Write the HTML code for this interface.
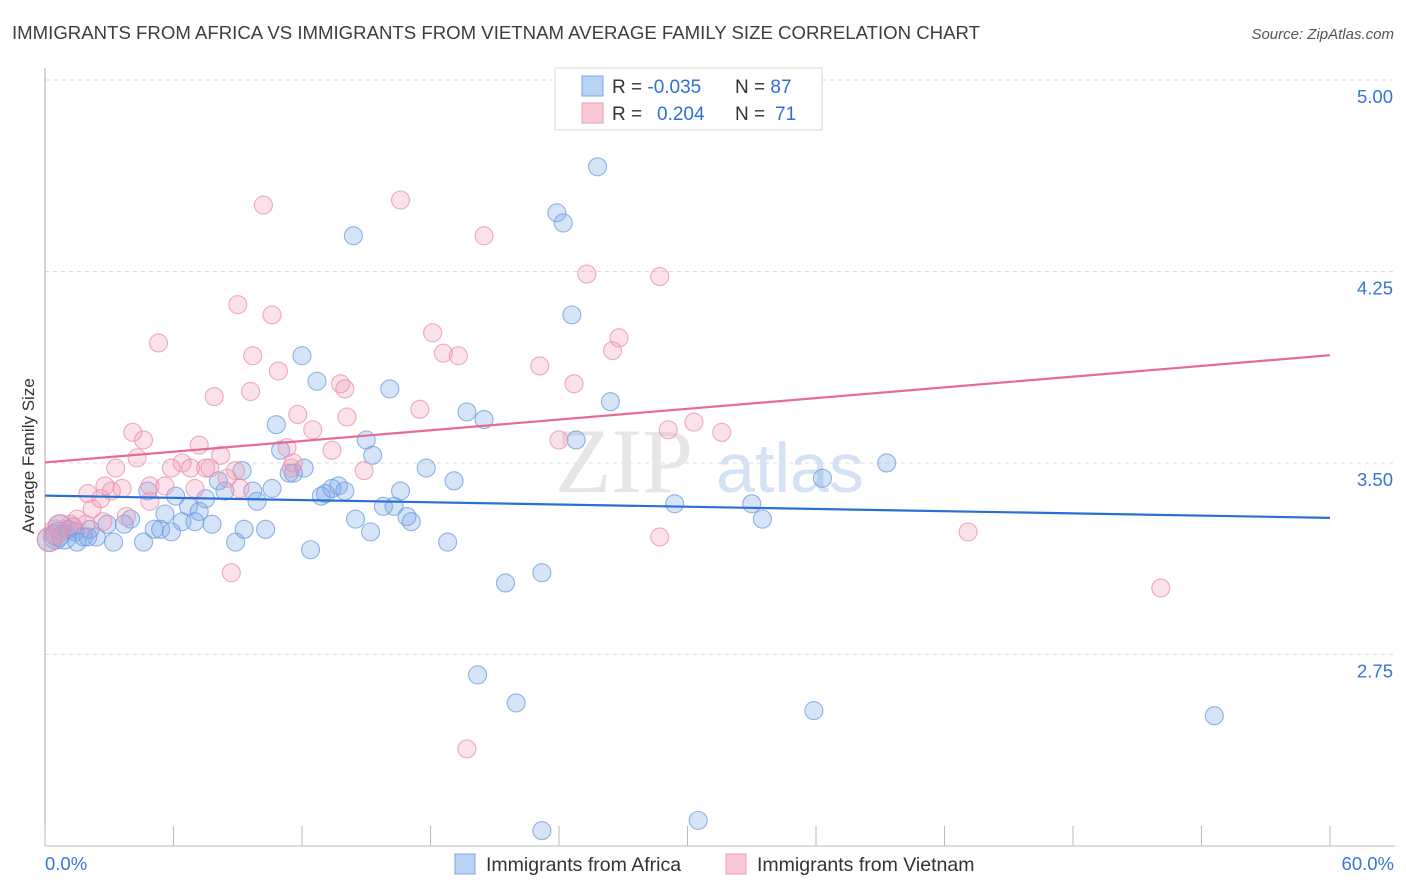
<!DOCTYPE html>
<html><head><meta charset="utf-8"><style>
html,body{margin:0;padding:0;background:#fff;width:1406px;height:892px;overflow:hidden;font-family:"Liberation Sans",sans-serif}
</style></head><body>
<svg id="chart" width="1406" height="892" viewBox="0 0 1406 892" xmlns="http://www.w3.org/2000/svg">
<text x="12" y="39" font-size="18" fill="#3d3d3d" textLength="968" lengthAdjust="spacingAndGlyphs">IMMIGRANTS FROM AFRICA VS IMMIGRANTS FROM VIETNAM AVERAGE FAMILY SIZE CORRELATION CHART</text>
<text x="1394" y="39" font-size="15" fill="#555" font-style="italic" text-anchor="end">Source: ZipAtlas.com</text>
<g id="grid"></g>
<text x="555" y="492" font-size="92" fill="#e6e6e6" font-family="Liberation Serif, serif">ZIP</text>
<text x="716" y="492" font-size="70" fill="#d4e2f3">atlas</text>
<g id="axes"></g>
<g id="pts"></g>
<g id="trends"></g>
<text transform="translate(34,456) rotate(-90)" font-size="17" fill="#333" text-anchor="middle">Average Family Size</text>
<g>
<rect x="555" y="68" width="267" height="62" fill="#fff" stroke="#d8d8d8"/>
<rect x="582" y="76" width="21" height="20" fill="#b9d3f5" stroke="#7aa5e0"/>
<rect x="582" y="103" width="21" height="20" fill="#fac8d8" stroke="#ee9ab6"/>
<text x="612" y="93" font-size="19" fill="#333">R = <tspan fill="#2f6fd6">-0.035</tspan></text>
<text x="735" y="93" font-size="19" fill="#333">N = <tspan fill="#2f6fd6">87</tspan></text>
<text x="612" y="120" font-size="19" fill="#333">R = </text><text x="657" y="120" font-size="19" fill="#2f6fd6">0.204</text>
<text x="735" y="120" font-size="19" fill="#333">N = </text><text x="775" y="120" font-size="19" fill="#2f6fd6">71</text>
</g>
<g>
<rect x="455" y="854" width="20" height="20" fill="#b9d3f5" stroke="#7aa5e0"/>
<text x="486" y="871" font-size="19.5" fill="#333">Immigrants from Africa</text></g>
<g>
<rect x="726" y="854" width="20" height="20" fill="#fac8d8" stroke="#ee9ab6"/>
<text x="757" y="871" font-size="19.5" fill="#333">Immigrants from Vietnam</text></g>
</svg>
<script>
const yTicks=[5.00,4.25,3.50,2.75];
const xTickLabels=["0.0%","60.0%"];
const blueX=[25.8,23.9,24.2,14.4,24.6,12.0,12.7,16.1,26.4,19.7,20.5,10.8,15.0,24.8,11.0,15.3,39.3,17.8,12.1,11.4,11.6,9.2,36.3,19.1,8.1,8.4,10.6,9.7,13.7,13.4,14.0,13.1,12.9,16.6,4.8,6.1,7.5,9.9,6.7,15.8,16.3,29.4,33.0,5.6,7.2,14.5,16.9,17.1,33.5,4.0,2.9,3.7,6.4,7.0,7.8,9.3,10.3,5.1,5.4,5.9,15.2,0.7,1.1,1.4,2.1,2.0,2.4,0.5,0.9,1.5,3.2,4.6,8.9,18.8,12.4,23.2,21.5,20.2,22.0,35.9,54.6,30.5,23.2,0.2,0.6,1.3,1.8];
const blueY=[4.66,4.48,4.44,4.39,4.08,3.92,3.82,3.79,3.74,3.70,3.67,3.65,3.59,3.59,3.55,3.53,3.50,3.48,3.48,3.46,3.46,3.47,3.44,3.43,3.43,3.39,3.40,3.39,3.41,3.40,3.39,3.38,3.37,3.39,3.39,3.37,3.36,3.35,3.33,3.33,3.33,3.34,3.34,3.30,3.31,3.28,3.29,3.27,3.28,3.28,3.26,3.26,3.27,3.27,3.26,3.24,3.24,3.24,3.24,3.23,3.23,3.25,3.24,3.23,3.24,3.21,3.21,3.21,3.21,3.19,3.19,3.19,3.19,3.19,3.16,3.07,3.03,2.67,2.56,2.53,2.51,2.10,2.06,3.20,3.22,3.25,3.21];
const pinkX=[10.2,16.6,20.5,25.3,28.7,9.0,10.6,18.1,26.8,5.3,26.5,18.6,19.3,9.7,23.1,10.9,13.8,24.7,14.0,9.6,7.9,17.5,11.8,14.1,30.3,29.1,31.6,4.1,12.5,4.6,7.2,24.0,11.3,13.4,8.2,4.3,6.4,11.6,5.9,3.3,7.5,7.7,6.8,8.9,14.9,11.5,4.9,8.5,9.1,2.8,3.6,7.0,5.6,2.0,3.1,2.6,4.9,2.2,3.8,2.7,1.5,1.9,1.2,0.7,0.5,0.2,28.7,43.1,8.7,52.1,19.7];
const pinkY=[4.51,4.53,4.39,4.24,4.23,4.12,4.08,4.01,3.99,3.97,3.94,3.93,3.92,3.92,3.88,3.86,3.81,3.81,3.79,3.78,3.76,3.71,3.69,3.68,3.66,3.63,3.62,3.62,3.63,3.59,3.57,3.59,3.56,3.55,3.53,3.52,3.50,3.50,3.48,3.48,3.48,3.48,3.48,3.47,3.47,3.48,3.41,3.44,3.40,3.41,3.40,3.40,3.41,3.38,3.39,3.36,3.35,3.32,3.29,3.27,3.28,3.26,3.26,3.25,3.23,3.20,3.21,3.23,3.07,3.01,2.38];
const blueTrend=[3.372,3.285];
const pinkTrend=[3.502,3.922];
const NS="http://www.w3.org/2000/svg";
const X0=45,X1=1330,Y0=80,YPU=255.3;
function sx(v){return X0+(v/60)*(X1-X0);}
function sy(v){return Y0+(5-v)*YPU;}
function mk(t,a,p){const e=document.createElementNS(NS,t);for(const k in a)e.setAttribute(k,a[k]);p.appendChild(e);return e;}
const grid=document.getElementById('grid');
yTicks.forEach(v=>{
 const l=mk('line',{x1:X0,x2:1395,y1:sy(v),y2:sy(v),stroke:'#dcdcdc','stroke-dasharray':'4,4'},grid);
 
 
 const t=mk('text',{x:1393,y:sy(v)+23,'font-size':18.5,fill:'#3a74d4','text-anchor':'end'},grid);
 t.textContent=v.toFixed(2);
 
 
});
const ax=document.getElementById('axes');
mk('line',{x1:X0,x2:X0,y1:68,y2:846,stroke:'#aaa'},ax);
mk('line',{x1:X0,x2:1395,y1:846,y2:846,stroke:'#bbb'},ax);
for(let i=0;i<=10;i++){mk('line',{x1:sx(i*6),x2:sx(i*6),y1:826,y2:846,stroke:'#bbb'},ax);}
const xl0=mk('text',{x:45,y:870,'font-size':18.5,fill:'#3a74d4'},ax);xl0.textContent=xTickLabels[0];


const xl1=mk('text',{x:1394,y:870,'font-size':18.5,fill:'#3a74d4','text-anchor':'end'},ax);xl1.textContent=xTickLabels[1];


const pts=document.getElementById('pts');
function drawSeries(xs,ys,fill,stroke,name){
 xs.forEach((x,i)=>{
  const r=(x<1.0)?12:9;
  const c=mk('circle',{cx:sx(x),cy:sy(ys[i]),r:r,fill:fill,stroke:stroke,'stroke-width':1.1,'stroke-opacity':0.75},pts);
  
  
 });
}
drawSeries(blueX,blueY,'rgba(120,165,232,0.3)','#6d9be0','point-africa');
drawSeries(pinkX,pinkY,'rgba(242,150,180,0.28)','#eb8fae','point-vietnam');
const tr=document.getElementById('trends');
const bl=mk('line',{x1:sx(0),y1:sy(blueTrend[0]),x2:sx(60),y2:sy(blueTrend[1]),stroke:'#2a6fd6','stroke-width':2.2},tr);


const pl=mk('line',{x1:sx(0),y1:sy(pinkTrend[0]),x2:sx(60),y2:sy(pinkTrend[1]),stroke:'#e86a94','stroke-width':2.2},tr);


</script>
</body></html>
